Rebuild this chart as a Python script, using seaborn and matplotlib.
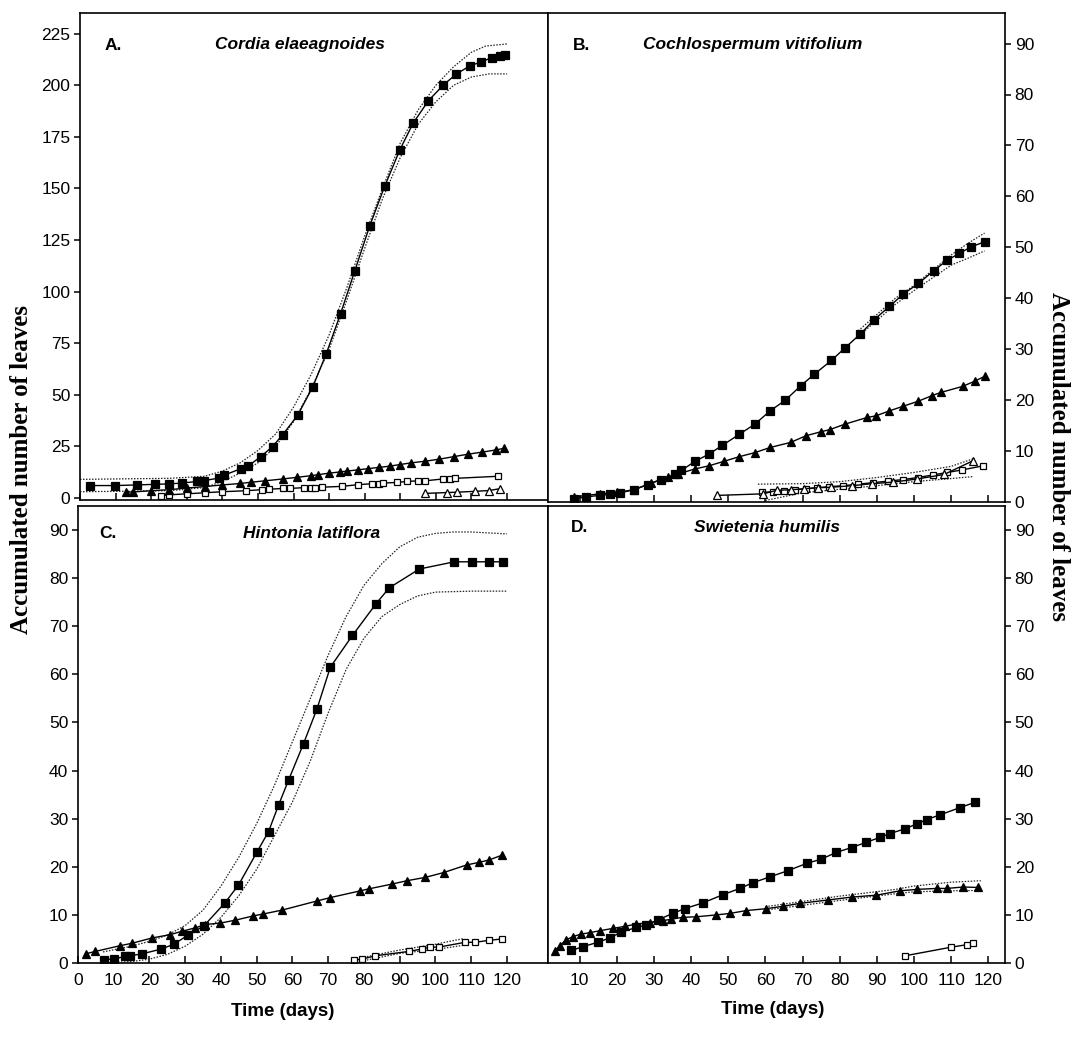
import numpy as np
import pandas as pd
import matplotlib
matplotlib.use("Agg")
import matplotlib.pyplot as plt
import seaborn as sns
from matplotlib import font_manager

sns.set_style("ticks")
names = {f.name for f in font_manager.fontManager.ttflist}
TICKFONT = "Liberation Sans Narrow" if "Liberation Sans Narrow" in names else "Liberation Sans"
plt.rcParams['font.family'] = ['Liberation Sans', 'DejaVu Sans']
for k in ("text.color", "axes.labelcolor", "xtick.color", "ytick.color", "axes.edgecolor"):
    plt.rcParams[k] = "black"

# ---------------- Panel A: Cordia elaeagnoides ----------------
A_sq_x = [2.8, 9.9, 16, 21.2, 24.9, 28.7, 32.9, 34.8, 39, 40.5, 45.2, 47.1, 50.8, 54.1, 56.9, 61.2,
          65.4, 69.2, 73.2, 77.2, 81.4, 85.6, 89.9, 93.6, 97.9, 102.1, 105.7, 109.6, 112.7, 115.8, 118.1, 119.5]
A_sq_y = [6, 6, 6.3, 6.6, 6.8, 7.2, 8, 8.4, 9.6, 11, 14.2, 15.3, 20, 24.9, 30.5, 40.2,
          53.8, 69.9, 89.2, 110, 131.8, 151, 168.8, 181.6, 192.5, 200.1, 205.4, 209.4, 211.3, 213.4, 214.1, 214.6]
A_up_x = [0, 25, 35, 40, 45, 50, 55, 60, 65, 70, 75, 80, 85, 90, 95, 100, 105, 110, 114, 120]
A_up_y = [9, 9.5, 10.5, 13, 17, 23, 31, 44, 60, 79, 102, 127, 150, 172, 188, 200, 209, 216, 219, 220]
A_lo_x = [0, 25, 35, 40, 45, 50, 55, 60, 65, 70, 75, 80, 85, 90, 95, 100, 105, 110, 115, 120]
A_lo_y = [3, 3.5, 5, 8, 12, 17, 25, 37, 53, 72, 96, 121, 145, 165, 181, 192, 200, 204, 205.5, 205.5]
A_tri_x = [13, 15, 20, 25, 30, 35, 40, 45, 48, 52, 57, 61, 65, 67, 70, 73, 75, 78, 81, 84, 87, 90,
           93, 97, 101, 105, 109, 113, 117, 119]
A_tri_y = [2.8, 2.9, 3.5, 4, 4.8, 5.5, 6.3, 7, 7.6, 8.3, 9.2, 10, 10.8, 11.3, 12, 12.6, 13, 13.6,
           14.2, 14.8, 15.4, 16.2, 17, 17.8, 18.8, 20, 21.2, 22.2, 23.3, 24]
A_osq_x = [22.7, 25, 30, 35, 40, 46.7, 51, 53, 57, 59, 63, 65, 66, 68, 73.5, 78, 82, 84, 85, 89, 92,
           95, 97, 102, 104, 105.5, 117.5]
A_osq_y = [1, 1.5, 2, 2.5, 3, 3.5, 4, 4.2, 4.6, 4.6, 5, 5, 5, 5.2, 5.6, 6.4, 6.9, 6.9, 7.2, 7.5, 8,
           8.3, 8.3, 9.2, 9.2, 9.5, 10.5]
A_otri_x = [97, 103, 106, 111, 115, 118]
A_otri_y = [2.2, 2.6, 2.8, 3.2, 3.6, 4.5]

# ---------------- Panel B: Cochlospermum vitifolium ----------------
B_sq_x = [8.5, 11.7, 15.4, 18.2, 20.9, 24.6, 28.3, 31.9, 35.6, 37.4, 41.1, 44.8, 48.4, 53, 57.2,
          61.3, 65.4, 69.5, 73.2, 77.8, 81.5, 85.6, 89.3, 93.4, 97.1, 101.2, 105.3, 109, 112.2, 115.4, 119.1]
B_sq_y = [0.6, 1, 1.3, 1.5, 1.8, 2.4, 3.4, 4.4, 5.4, 6.2, 8, 9.4, 11.1, 13.3, 15.3,
          17.9, 20, 22.8, 25.1, 27.8, 30.3, 33, 35.8, 38.4, 40.8, 42.9, 45.4, 47.5, 48.8, 50.1, 51.1]
B_up_x = [85, 95, 100, 105, 110, 115, 119]
B_up_y = [33.6, 40, 42.5, 45.5, 48.5, 51, 52.8]
B_lo_x = [85, 95, 100, 105, 110, 115, 119]
B_lo_y = [32.5, 38.8, 41.5, 44, 46.5, 48, 49.3]
B_tri_x = [8.5, 15.4, 20, 24.6, 29.2, 33.8, 36.5, 41.1, 44.8, 48.9, 53, 57.2, 61.3, 66.8, 70.9, 75,
           77.3, 81.5, 87.4, 89.7, 93.4, 97.1, 101.2, 104.9, 107.2, 113.1, 116.3, 119.1]
B_tri_y = [1, 1.6, 1.9, 2.4, 3.7, 4.9, 5.5, 6.5, 7.1, 8, 8.9, 9.7, 10.7, 11.7, 13, 13.8,
           14.2, 15.3, 16.6, 16.9, 17.9, 18.8, 19.8, 20.9, 21.5, 22.7, 23.7, 24.7]
B_otri_x = [47.1, 59.4, 63.1, 66.8, 70.5, 74.1, 77.8, 83.3, 88.8, 94.3, 100.7, 108.1, 115.9]
B_otri_y = [1.3, 1.6, 2.3, 2.4, 2.6, 2.8, 2.9, 3.2, 3.6, 3.9, 4.5, 5.4, 8.1]
B_osq_x = [59, 62, 65, 68, 71, 74, 77, 81, 85, 89, 93, 97, 101, 105, 109, 113, 118.6]
B_osq_y = [1.9, 2.0, 2.2, 2.4, 2.6, 2.8, 3.0, 3.2, 3.5, 3.8, 4.1, 4.4, 4.8, 5.3, 5.8, 6.3, 7.1]
B_oup_x = [58, 70, 80, 90, 100, 110, 116]
B_oup_y = [3.5, 3.6, 4.0, 4.8, 5.8, 7.0, 8.5]
B_olo_x = [60, 70, 80, 90, 100, 110, 116]
B_olo_y = [0.3, 1.8, 2.5, 3.2, 4.0, 4.6, 5.0]

# ---------------- Panel C: Hintonia latiflora ----------------
C_sq_x = [7.2, 10, 13.2, 14.6, 17.9, 23.3, 26.8, 30.8, 35.2, 41, 44.9, 50.1, 53.3, 56.1, 58.9,
          63.1, 66.9, 70.6, 76.8, 83.4, 87.1, 95.5, 105.3, 110.2, 115.1, 118.8]
C_sq_y = [0.7, 0.8, 1.4, 1.5, 1.9, 2.9, 3.9, 5.8, 7.7, 12.4, 16.2, 23.1, 27.3, 32.8, 38,
          45.6, 52.9, 61.5, 68.1, 74.7, 78, 81.9, 83.4, 83.4, 83.4, 83.4]
C_up_x = [7, 15, 20, 25, 30, 35, 40, 45, 50, 55, 60, 65, 70, 75, 80, 85, 90, 95, 100, 105, 110, 120]
C_up_y = [2.3, 3.5, 4.5, 5.8, 7.8, 11, 16, 22, 29, 37, 46, 55, 64, 72, 78.5, 83, 86.5, 88.5, 89.3,
          89.6, 89.6, 89.2]
C_lo_x = [7, 15, 20, 25, 30, 35, 40, 45, 50, 55, 60, 65, 70, 75, 80, 85, 90, 95, 100, 110, 120]
C_lo_y = [0, 0.3, 0.8, 1.8, 3.5, 6, 9.5, 14, 19.5, 26.5, 33.5, 42, 52, 61, 67.5, 72, 74.5, 76.3,
          77.1, 77.3, 77.3]
C_tri_x = [2.1, 4.8, 11.8, 15.1, 20.7, 25.8, 29.1, 32.8, 35.6, 39.8, 44, 49.1, 51.9, 57.1, 66.9,
           70.6, 79, 81.3, 87.8, 92, 97.2, 102.3, 108.8, 112.1, 114.9, 118.6]
C_tri_y = [1.9, 2.4, 3.6, 4.1, 5.2, 5.9, 6.6, 7.3, 8, 8.3, 8.9, 9.8, 10.2, 11, 12.9,
           13.6, 15, 15.4, 16.4, 17.1, 17.8, 18.8, 20.4, 20.9, 21.4, 22.4]
C_osq_x = [77.1, 79.4, 83.2, 92.5, 96.2, 98.6, 100.9, 108.3, 111.1, 114.9, 118.6]
C_osq_y = [0.6, 0.8, 1.5, 2.4, 2.9, 3.3, 3.3, 4.3, 4.3, 4.7, 5.0]
C_oup_x = [80, 90, 100, 108]
C_oup_y = [1.2, 2.7, 3.9, 5.1]
C_olo_x = [80, 90, 100, 108]
C_olo_y = [0.5, 2.0, 2.8, 3.7]

# ---------------- Panel D: Swietenia humilis ----------------
D_sq_x = [7.8, 10.9, 14.9, 18.1, 21.2, 25.3, 28, 31.1, 35.1, 38.3, 43.2, 48.6, 53.1, 56.7, 61.2,
          66.1, 71.1, 75.1, 79.1, 83.2, 87.2, 90.8, 93.5, 97.6, 100.7, 103.4, 107, 112.4, 116.4]
D_sq_y = [2.6, 3.4, 4.3, 5.2, 6.4, 7.4, 7.9, 9, 10.3, 11.3, 12.5, 14.2, 15.5, 16.7, 17.9,
          19.2, 20.7, 21.6, 23, 24, 25.1, 26.1, 26.9, 27.9, 28.9, 29.8, 30.8, 32.3, 33.4]
D_tri_x = [3.3, 4.6, 6.4, 8.2, 10.4, 12.7, 15.4, 19, 22.1, 25.3, 28.9, 32.4, 34.7, 37.8, 41.4,
           46.8, 50.4, 54.9, 60.3, 64.8, 69.3, 76.9, 83.2, 89.9, 96.2, 100.7, 106.1, 108.8, 113.3, 117.3]
D_tri_y = [2.4, 3.6, 4.8, 5.5, 6, 6.3, 6.7, 7.2, 7.6, 8.1, 8.4, 8.8, 9.1, 9.5, 9.6,
           10, 10.3, 10.9, 11.3, 11.8, 12.4, 13.1, 13.7, 14.1, 15, 15.3, 15.5, 15.5, 15.8, 15.7]
D_tup_x = [60, 80, 95, 100, 110, 118]
D_tup_y = [11.7, 13.9, 15.3, 16, 16.8, 17.1]
D_tlo_x = [60, 80, 95, 100, 110, 118]
D_tlo_y = [11.0, 13.0, 14.4, 14.8, 15.0, 15.1]
D_osq_x = [97.6, 110.1, 114.2, 116]
D_osq_y = [1.5, 3.3, 3.8, 4.1]

# ---------------- labels ----------------
panel_letters = ["A.", "B.", "C.", "D."]
species = ["Cordia elaeagnoides", "Cochlospermum vitifolium", "Hintonia latiflora", "Swietenia humilis"]
A_yticks = [0, 25, 50, 75, 100, 125, 150, 175, 200, 225]
other_yticks = [0, 10, 20, 30, 40, 50, 60, 70, 80, 90]
xticks_left = [0, 10, 20, 30, 40, 50, 60, 70, 80, 90, 100, 110, 120]
xticks_right = [10, 20, 30, 40, 50, 60, 70, 80, 90, 100, 110, 120]
y_label = "Accumulated number of leaves"
x_label = "Time (days)"

W, H = 1072, 1058
fig = plt.figure(figsize=(W / 100, H / 100), dpi=100)


def rect(l, t, r, b):
    return [l / W, 1 - b / H, (r - l) / W, (b - t) / H]


axA = fig.add_axes(rect(80, 13, 548, 500))
axB = fig.add_axes(rect(548, 13, 1005, 502))
axC = fig.add_axes(rect(78, 506, 548, 963))
axD = fig.add_axes(rect(548, 506, 1005, 963))

LW = 1.0


def series(ax, x, y, marker, filled, ms):
    sns.lineplot(x=x, y=y, ax=ax, color="black", linewidth=LW, marker=marker, markersize=ms,
                 markerfacecolor="black" if filled else "white", markeredgecolor="black",
                 markeredgewidth=0.9, estimator=None, sort=False)


def bound(ax, x, y):
    sns.lineplot(x=x, y=y, ax=ax, color="#222222", linewidth=0.9, linestyle=(0, (1.2, 1.2)),
                 estimator=None, sort=False)


# A
bound(axA, A_up_x, A_up_y)
bound(axA, A_lo_x, A_lo_y)
series(axA, A_osq_x, A_osq_y, "s", False, 5)
series(axA, A_otri_x, A_otri_y, "^", False, 5.5)
series(axA, A_tri_x, A_tri_y, "^", True, 6)
series(axA, A_sq_x, A_sq_y, "s", True, 6)
# B
bound(axB, B_up_x, B_up_y)
bound(axB, B_lo_x, B_lo_y)
bound(axB, B_oup_x, B_oup_y)
bound(axB, B_olo_x, B_olo_y)
series(axB, B_osq_x, B_osq_y, "s", False, 5)
series(axB, B_otri_x, B_otri_y, "^", False, 5.5)
series(axB, B_tri_x, B_tri_y, "^", True, 6)
series(axB, B_sq_x, B_sq_y, "s", True, 6)
# C
bound(axC, C_up_x, C_up_y)
bound(axC, C_lo_x, C_lo_y)
bound(axC, C_oup_x, C_oup_y)
bound(axC, C_olo_x, C_olo_y)
series(axC, C_osq_x, C_osq_y, "s", False, 5)
series(axC, C_tri_x, C_tri_y, "^", True, 6)
series(axC, C_sq_x, C_sq_y, "s", True, 6)
# D
bound(axD, D_tup_x, D_tup_y)
bound(axD, D_tlo_x, D_tlo_y)
series(axD, D_osq_x, D_osq_y, "s", False, 5)
series(axD, D_tri_x, D_tri_y, "^", True, 6)
series(axD, D_sq_x, D_sq_y, "s", True, 6)

tickfont = dict(family=TICKFONT, size=12.5, color="black")

for ax in (axA, axB, axC, axD):
    for s in ax.spines.values():
        s.set_visible(True)
        s.set_linewidth(1.2)
        s.set_color("black")
    ax.set_xlabel("")
    ax.set_ylabel("")
    ax.tick_params(axis="x", direction="in", length=5, width=1.1, pad=7, color="black")
    ax.tick_params(axis="y", direction="out", length=4, width=1.1, pad=3, color="black")

axA.set_xlim(0, 131.5)
axC.set_xlim(0, 131.5)
axB.set_xlim(1.5, 124.5)
axD.set_xlim(1.5, 124.5)
axA.set_ylim(-1, 235)
axB.set_ylim(0, 96)
axC.set_ylim(0, 95)
axD.set_ylim(0, 95)

axA.set_xticks(xticks_left)
axC.set_xticks(xticks_left)
axB.set_xticks(xticks_right)
axD.set_xticks(xticks_right)
axA.tick_params(axis="x", labelbottom=False)
axB.tick_params(axis="x", labelbottom=False)
axC.set_xticklabels([str(v) for v in xticks_left], **tickfont)
axD.set_xticklabels([str(v) for v in xticks_right], **tickfont)

axA.set_yticks(A_yticks)
axA.set_yticklabels([str(v) for v in A_yticks], **tickfont)
axC.set_yticks(other_yticks)
axC.set_yticklabels([str(v) for v in other_yticks], **tickfont)
for ax in (axB, axD):
    ax.yaxis.tick_right()
    ax.set_yticks(other_yticks)
    ax.set_yticklabels([str(v) for v in other_yticks], **tickfont)
    ax.tick_params(axis="y", direction="out", length=4, width=1.1, pad=3, color="black")

# panel letters and species names
letter_pos = [(113, 45), (582, 45), (108, 533), (580, 527)]
name_pos = [(300, 45), (753, 45), (312, 533), (767, 527)]
for lab, (px, py) in zip(panel_letters, letter_pos):
    fig.text(px / W, 1 - py / H, lab, ha="center", va="center", fontsize=12.5,
             fontweight="bold", color="black")
for name, (px, py) in zip(species, name_pos):
    fig.text(px / W, 1 - py / H, name, ha="center", va="center", fontsize=12.5,
             fontweight="bold", fontstyle="italic", color="black")

fig.text(22 / W, 1 - 470 / H, y_label, rotation=90, ha="center", va="center",
         family=["Liberation Serif", "DejaVu Serif"], fontweight="bold", fontsize=18, color="black")
fig.text(1058 / W, 1 - 457 / H, y_label, rotation=-90, ha="center", va="center",
         family=["Liberation Serif", "DejaVu Serif"], fontweight="bold", fontsize=18, color="black")
fig.text(283 / W, 1 - 1012 / H, x_label, ha="center", va="center", fontsize=13.5,
         fontweight="bold", color="black")
fig.text(773 / W, 1 - 1010 / H, x_label, ha="center", va="center", fontsize=13.5,
         fontweight="bold", color="black")

fig.savefig("out.png", dpi=100, facecolor="white")
